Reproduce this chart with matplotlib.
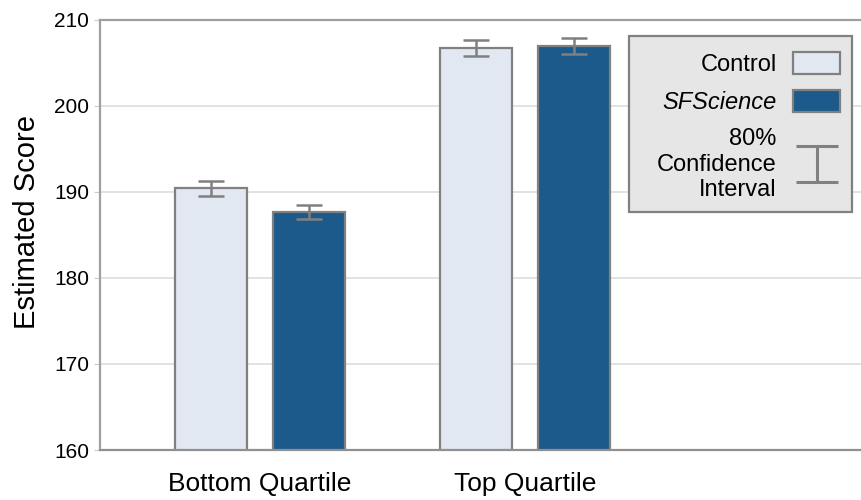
import numpy as np
import matplotlib.pyplot as plt
from matplotlib.patches import Patch, Rectangle
from matplotlib.legend_handler import HandlerErrorbar

plt.rcParams['font.family'] = ['Liberation Sans', 'DejaVu Sans']

# data
groups = ['Bottom Quartile', 'Top Quartile']
control = [190.4, 206.7]
control_err = [0.9, 0.9]
sfscience = [187.6, 206.95]
sfscience_err = [0.82, 0.95]

light = '#e2e8f1'
dark = '#1c5a8c'
edge = '#808080'

fig = plt.figure(figsize=(8.62, 5.0), dpi=100)
ax = fig.add_axes([0.116, 0.10, 0.884, 0.861])

x = np.arange(len(groups))
w = 0.272
off = 0.185

ax.bar(x - off, control, w, bottom=0, color=light, edgecolor=edge, linewidth=1.6, zorder=2)
ax.bar(x + off, sfscience, w, bottom=0, color=dark, edgecolor=edge, linewidth=1.6, zorder=2)
ax.errorbar(x - off, control, yerr=control_err, fmt='none', ecolor=edge,
            elinewidth=1.8, capsize=9.5, capthick=1.8, zorder=3)
ax.errorbar(x + off, sfscience, yerr=sfscience_err, fmt='none', ecolor=edge,
            elinewidth=1.8, capsize=9.5, capthick=1.8, zorder=3)

ax.set_ylim(160, 210)
ax.set_xlim(-0.604, 2.272)
ax.set_yticks(range(160, 211, 10))
ax.set_xticks(x)
ax.set_xticklabels(groups, fontsize=19)
ax.tick_params(axis='x', length=0, pad=16)
ax.tick_params(axis='y', labelsize=15, length=4, color='#cccccc', pad=4)
ax.set_ylabel('Estimated Score', fontsize=21)
ax.yaxis.set_label_coords(-0.078, 0.529)

ax.yaxis.grid(True, color='#dddddd', linewidth=1.2, zorder=0)
ax.set_axisbelow(True)
ax.spines['right'].set_visible(False)
ax.spines['top'].set_color('#a0a0a0')
ax.spines['left'].set_color('#a0a0a0')
ax.spines['bottom'].set_color('#909090')
for s in ['top', 'left', 'bottom']:
    ax.spines[s].set_linewidth(1.6)

# legend box drawn separately so it can be wider than its content
ax.add_patch(Rectangle((0.694, 0.552), 0.293, 0.4086, transform=ax.transAxes,
                       facecolor='#e6e6e6', edgecolor='#808080', linewidth=1.6,
                       zorder=4, clip_on=False))

h1 = Patch(facecolor=light, edgecolor=edge, linewidth=1.6)
h2 = Patch(facecolor=dark, edgecolor=edge, linewidth=1.6)
h3 = ax.errorbar([np.nan], [np.nan], yerr=[1], fmt='none', ecolor=edge,
                 elinewidth=2.2, capsize=15, capthick=2.2)
leg = ax.legend([h1, h2, h3], ['Control', 'SFScience', '80%\nConfidence\nInterval'],
                loc='upper right', bbox_to_anchor=(0.987, 0.952), borderaxespad=0,
                markerfirst=False, fontsize=17, frameon=False,
                handlelength=2.0, handleheight=1.05, handletextpad=0.7,
                labelspacing=0.6, borderpad=0.5,
                handler_map={type(h3): HandlerErrorbar(xerr_size=0.5, yerr_size=0.76)})
leg.set_zorder(5)
leg.get_texts()[1].set_fontstyle('italic')
for t in leg.get_texts():
    t.set_multialignment('right')
    t.set_linespacing(1.2)

fig.savefig('out.png', dpi=100)
